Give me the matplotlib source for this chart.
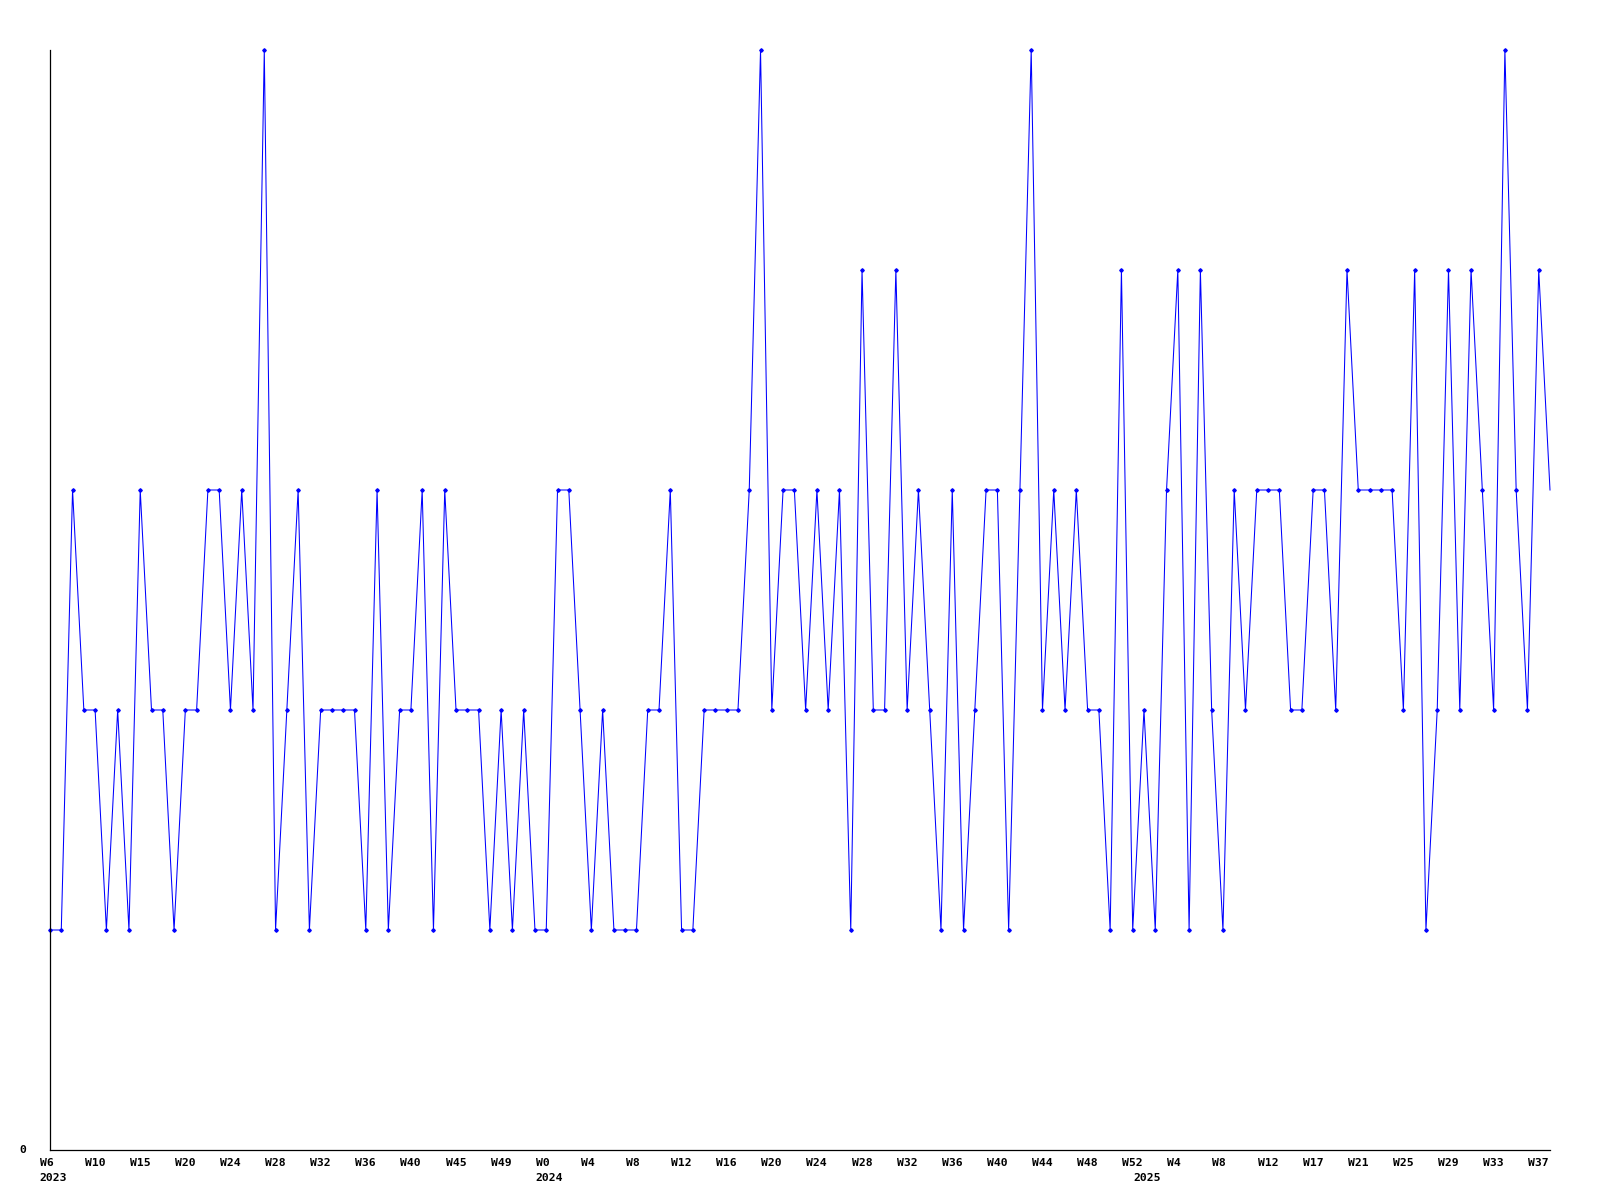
import numpy as np
import matplotlib.pyplot as plt
from matplotlib import transforms

# weekly values, one list per year
vals_2023 = [1, 1, 3, 2, 2, 1, 2, 1, 3, 2, 2, 1, 2, 2, 3, 3, 2, 3, 2, 5, 1, 2,
             3, 1, 2, 2, 2, 2, 1, 3, 1, 2, 2, 3, 1, 3, 2, 2, 2, 1, 2, 1, 2, 1]
vals_2024 = [1, 3, 3, 2, 1, 2, 1, 1, 1, 2, 2, 3, 1, 1, 2, 2, 2, 2, 3, 5, 2, 3,
             3, 2, 3, 2, 3, 1, 4, 2, 2, 4, 2, 3, 2, 1, 3, 1, 2, 3, 3, 1, 3, 5,
             2, 3, 2, 3, 2, 2, 1, 4, 1]
vals_2025 = [2, 1, 3, 4, 1, 4, 2, 1, 3, 2, 3, 3, 3, 2, 2, 3, 3, 2, 4, 3, 3, 3,
             3, 2, 4, 1, 2, 4, 2, 4, 3, 2, 5, 3, 2, 4, 3]

week_labels = ["W6", "W10", "W15", "W20", "W24", "W28", "W32", "W36", "W40",
               "W45", "W49", "W0", "W4", "W8", "W12", "W16", "W20", "W24",
               "W28", "W32", "W36", "W40", "W44", "W48", "W52", "W4", "W8",
               "W12", "W17", "W21", "W25", "W29", "W33", "W37"]
years = ["2023", "2024", "2025"]

values = vals_2023 + vals_2024 + vals_2025
x = np.arange(len(values))
year_start = [0, len(vals_2023), len(vals_2023) + len(vals_2024)]

fig = plt.figure(figsize=(16, 12), dpi=100)
ax = fig.add_axes([50 / 1600, 50 / 1200, 1500 / 1600, 1100 / 1200])

# last point has no marker in the original (it sits on the edge)
ax.plot(x, values, color='#0000ff', lw=0.75, marker='D', ms=1.8,
        markevery=list(range(len(values) - 1)), clip_on=False)
ax.set_xlim(0, len(values) - 1)
ax.set_ylim(0, 5)

for s in ['top', 'right']:
    ax.spines[s].set_visible(False)
for s in ['left', 'bottom']:
    ax.spines[s].set_linewidth(0.9)
    ax.spines[s].set_color('black')
ax.tick_params(length=0, labelbottom=False, labelleft=False)

font = dict(family='DejaVu Sans Mono', weight='bold', size=8.2)
wk_tr = transforms.offset_copy(ax.get_xaxis_transform(), fig=fig,
                               x=-10.5, y=-8, units='dots')
for i, lab in zip(range(0, len(values), 4), week_labels):
    ax.text(i, 0, lab, transform=wk_tr, ha='left', va='top', **font)

yr_tr = transforms.offset_copy(ax.get_xaxis_transform(), fig=fig,
                               x=-10.5, y=-23, units='dots')
for i, lab in zip(year_start, years):
    ax.text(i, 0, lab, transform=yr_tr, ha='left', va='top', **font)

zero_tr = transforms.offset_copy(ax.transData, fig=fig, x=-24, y=0, units='dots')
ax.text(0, 0, '0', transform=zero_tr, ha='right', va='center', **font)

fig.savefig('out.png', dpi=100, facecolor='white')
